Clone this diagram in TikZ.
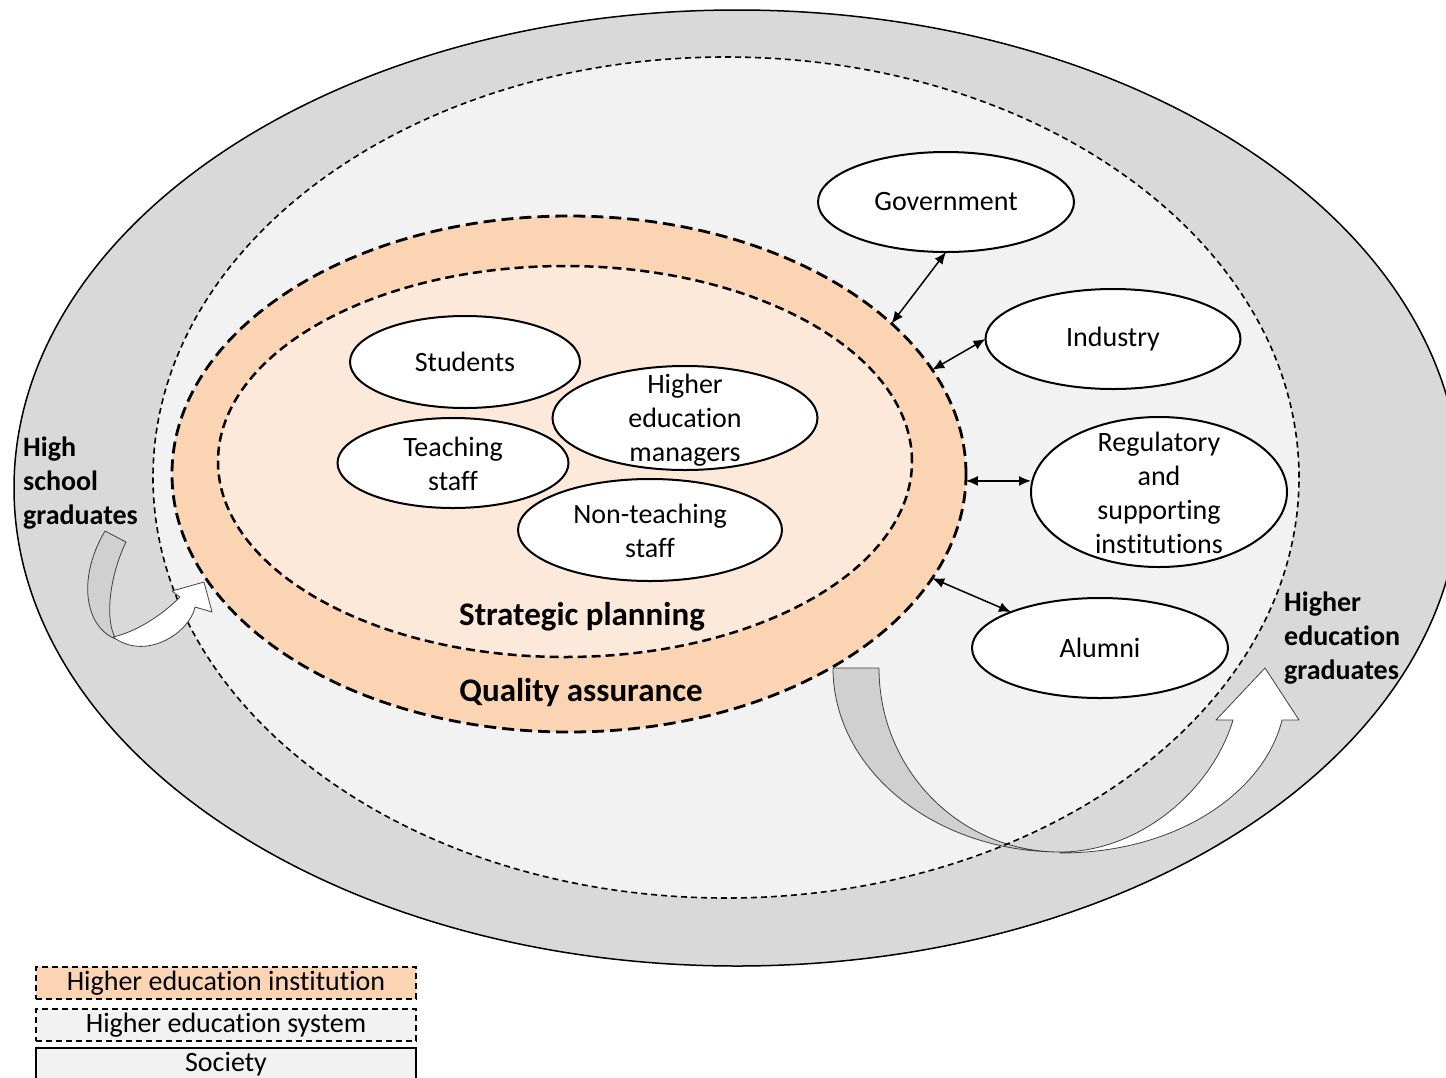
\documentclass[tikz,border=0pt]{standalone}
\usepackage{fontspec}
\setmainfont{Carlito}[Ligatures={NoCommon,NoContextual}]
\usetikzlibrary{shapes.geometric,arrows.meta}
\definecolor{society}{HTML}{D9D9D9}
\definecolor{system}{HTML}{F2F2F2}
\definecolor{ring}{HTML}{FBD4B4}
\definecolor{innerfill}{HTML}{FDE9D9}
\definecolor{tailfill}{HTML}{D0D0D0}
\definecolor{arrowedge}{HTML}{404040}
\begin{document}
\begin{tikzpicture}[x=1pt,y=-1pt,
  ell/.style={ellipse, draw=black, line width=2pt, fill=white, inner sep=0pt, outer sep=0pt},
  lbl/.style={align=center, font=\fontsize{28}{34}\selectfont, inner sep=0pt},
  blbl/.style={align=left, font=\fontsize{28}{34}\selectfont\bfseries, inner sep=0pt, anchor=west},
  big/.style={font=\fontsize{33}{38}\selectfont\bfseries, inner sep=0pt},
  dbl/.style={{Latex[length=12pt,width=10pt]}-{Latex[length=12pt,width=10pt]}, line width=1.5pt},
  legendbox/.style={draw=black, line width=1.5pt, minimum width=380pt, minimum height=32pt, inner sep=0pt, font=\fontsize{28}{34}\selectfont},
  ribbon/.style={draw=arrowedge, line width=0.8pt, line join=round},
]
\useasboundingbox (0,0) rectangle (1446,1077);
\clip (0,0) rectangle (1446,1077);

% society
\node[ellipse, draw=black, line width=1.5pt, fill=society, minimum width=1446pt, minimum height=956pt, inner sep=0pt, outer sep=0pt] (soc) at (737,488) {};
% higher education system (fill)
\node[ellipse, fill=system, minimum width=1146pt, minimum height=841pt, inner sep=0pt, outer sep=0pt] (sys) at (726,477.5) {};

% right curved arrow (HE graduates)
\path[ribbon, fill=tailfill] (833,668) -- (879,668) .. controls (879,770) and (960,852) .. (1060,852) .. controls (935,852) and (833,770) .. cycle;
\path[ribbon, fill=white] (1060,852) .. controls (1140,852) and (1212,790) .. (1233,720) -- (1216,720) -- (1265,668) -- (1299,720) -- (1282,720) .. controls (1265,790) and (1180,853) .. (1060,853) -- cycle;

% system outline
\path[draw=black, line width=1.6pt, dash pattern=on 6pt off 4pt] (sys.center) ellipse [x radius=573pt, y radius=420.5pt];

% higher education institution
\node[ellipse, draw=black, line width=2.8pt, dash pattern=on 12pt off 6pt, fill=ring, minimum width=794pt, minimum height=516pt, inner sep=0pt, outer sep=0pt] (hei) at (569,474) {};
\node[ellipse, draw=black, line width=2.5pt, dash pattern=on 9pt off 5pt, fill=innerfill, minimum width=694pt, minimum height=391pt, inner sep=0pt, outer sep=0pt] (sp) at (565,461.5) {};

% left curved arrow (high school graduates)
\path[ribbon, fill=tailfill] (105,531) -- (126,542) .. controls (110,575) and (104,620) .. (116,639) .. controls (86,628) and (76,580) .. cycle;
\path[ribbon, fill=white] (113,637) .. controls (135,632) and (160,617) .. (180,597) -- (172,591) -- (204,582) -- (212,612) -- (195,607) .. controls (190,632) and (148,660) .. (116,639) -- cycle;

% inner stakeholders
\node[ell, minimum width=230pt, minimum height=92pt] (stu) at (465,362) {};
\node[lbl] (stut) at (stu) {Students};
\node[ell, minimum width=231pt, minimum height=90pt] (tea) at (453,463) {};
\node[lbl] (teat) at (453,464) {Teaching\\staff};
\node[ell, minimum width=265pt, minimum height=104pt] (man) at (685,418) {};
\node[lbl] (mant) at (685,420) {Higher\\education\\managers};
\node[ell, minimum width=264pt, minimum height=102pt] (non) at (650,530) {};
\node[lbl] (nont) at (650,531) {Non-teaching\\staff};

% external stakeholders
\node[ell, minimum width=256pt, minimum height=100pt] (gov) at (946,202) {};
\node[lbl] (govt) at (gov) {Government};
\node[ell, minimum width=255pt, minimum height=100pt] (ind) at (1113,339) {};
\node[lbl] (indt) at (ind) {Industry};
\node[ell, minimum width=256pt, minimum height=150pt] (reg) at (1159,492) {};
\node[lbl] (regt) at (1159,493) {Regulatory\\and\\supporting\\institutions};
\node[ell, minimum width=256pt, minimum height=100pt] (alu) at (1100,648) {};
\node[lbl] (alut) at (alu) {Alumni};

% connectors
\draw[dbl] (hei.25) -- (gov.south);
\draw[dbl] (hei.16) -- (ind.west);
\draw[dbl] (hei.-1.5) -- (hei.-1.5 -| reg.west);
\draw[dbl] (hei.-16) -- (alu.158);

% ring labels
\node[big] (spl) at (582,617) {Strategic planning};
\node[big] (qa) at (581,693) {Quality assurance};

% flow labels
\node[blbl] (hsg) at (23,483) {High\\school\\graduates};
\node[blbl] (heg) at (1284,638) {Higher\\education\\graduates};

% legend
\node[legendbox, dash pattern=on 6pt off 4pt, fill=ring] (lg1) at (226,983) {Higher education institution};
\node[legendbox, dash pattern=on 6pt off 4pt, fill=system] (lg2) at (226,1025) {Higher education system};
\node[legendbox, fill=system] (lg3) at (226,1064) {Society};
\end{tikzpicture}
\end{document}
